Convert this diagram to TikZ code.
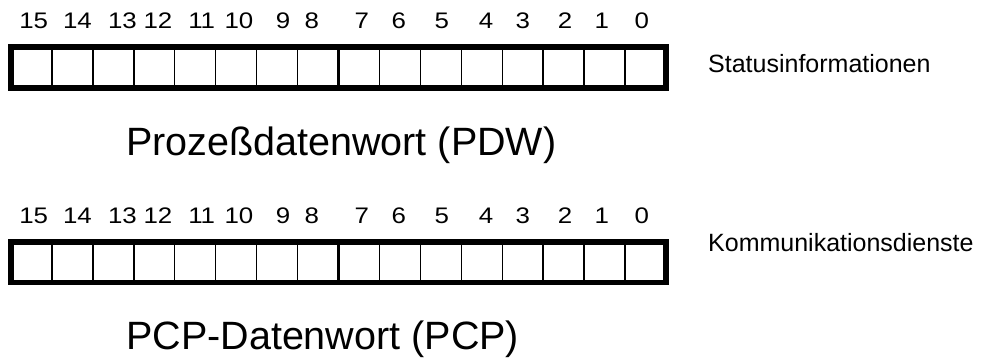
\documentclass[tikz,border=0pt]{standalone}
\usepackage{fontspec}
\usepackage{graphicx}
\setmainfont{Liberation Sans}
\newcommand{\dg}[1]{\scalebox{1.15}[1]{#1}}
\begin{document}
\begin{tikzpicture}[x=1pt,y=-1pt,
  thick border/.style={line width=5.5pt},
  mid line/.style={line width=3pt},
  thin line/.style={line width=1.4pt},
  digit/.style={anchor=base,inner sep=0pt,font=\fontsize{22.5}{22.5}\selectfont},
  side/.style={anchor=base west,inner sep=0pt,font=\fontsize{25}{25}\selectfont},
  title/.style={anchor=base west,inner sep=0pt,font=\fontsize{39.5}{39.5}\selectfont}]
\useasboundingbox (0,0) rectangle (982,360);
\def\cw{40.9375}
% ---- boxes
\foreach \yt/\yb/\nm in {46.8/88/A, 241.8/282.5/B}{
  \foreach \i in {1,...,15}{
    \draw[thin line] ({11+\i*\cw},\yt) -- ({11+\i*\cw},\yb);
  }
  \draw[mid line] ({11+8*\cw},\yt) -- ({11+8*\cw},\yb);
  \draw[thick border] (11,\yt) rectangle (666,\yb);
}
% ---- digits
\foreach \x/\n [count=\k] in {33.7/15,77.5/14,122.5/13,158/12,201.7/11,239/10,283/9,311.7/8,361.7/7,398.8/6,441.7/5,486/4,522.7/3,565/2,601.7/1,641.7/0}{
  \node[digit] (ta\k) at (\x,28.8) {\dg{\n}};
  \node[digit] (tb\k) at (\x,223.3) {\dg{\n}};
}
% ---- labels
\node[side] (s1) at (708,72.3) {Statusinformationen};
\node[side] (s2) at (708,251.7) {Kommunikationsdienste};
\node[title] (t1) at (126,155) {Prozeßdatenwort (PDW)};
\node[title] (t2) at (126,349) {PCP-Datenwort (PCP)};
\end{tikzpicture}
\end{document}
